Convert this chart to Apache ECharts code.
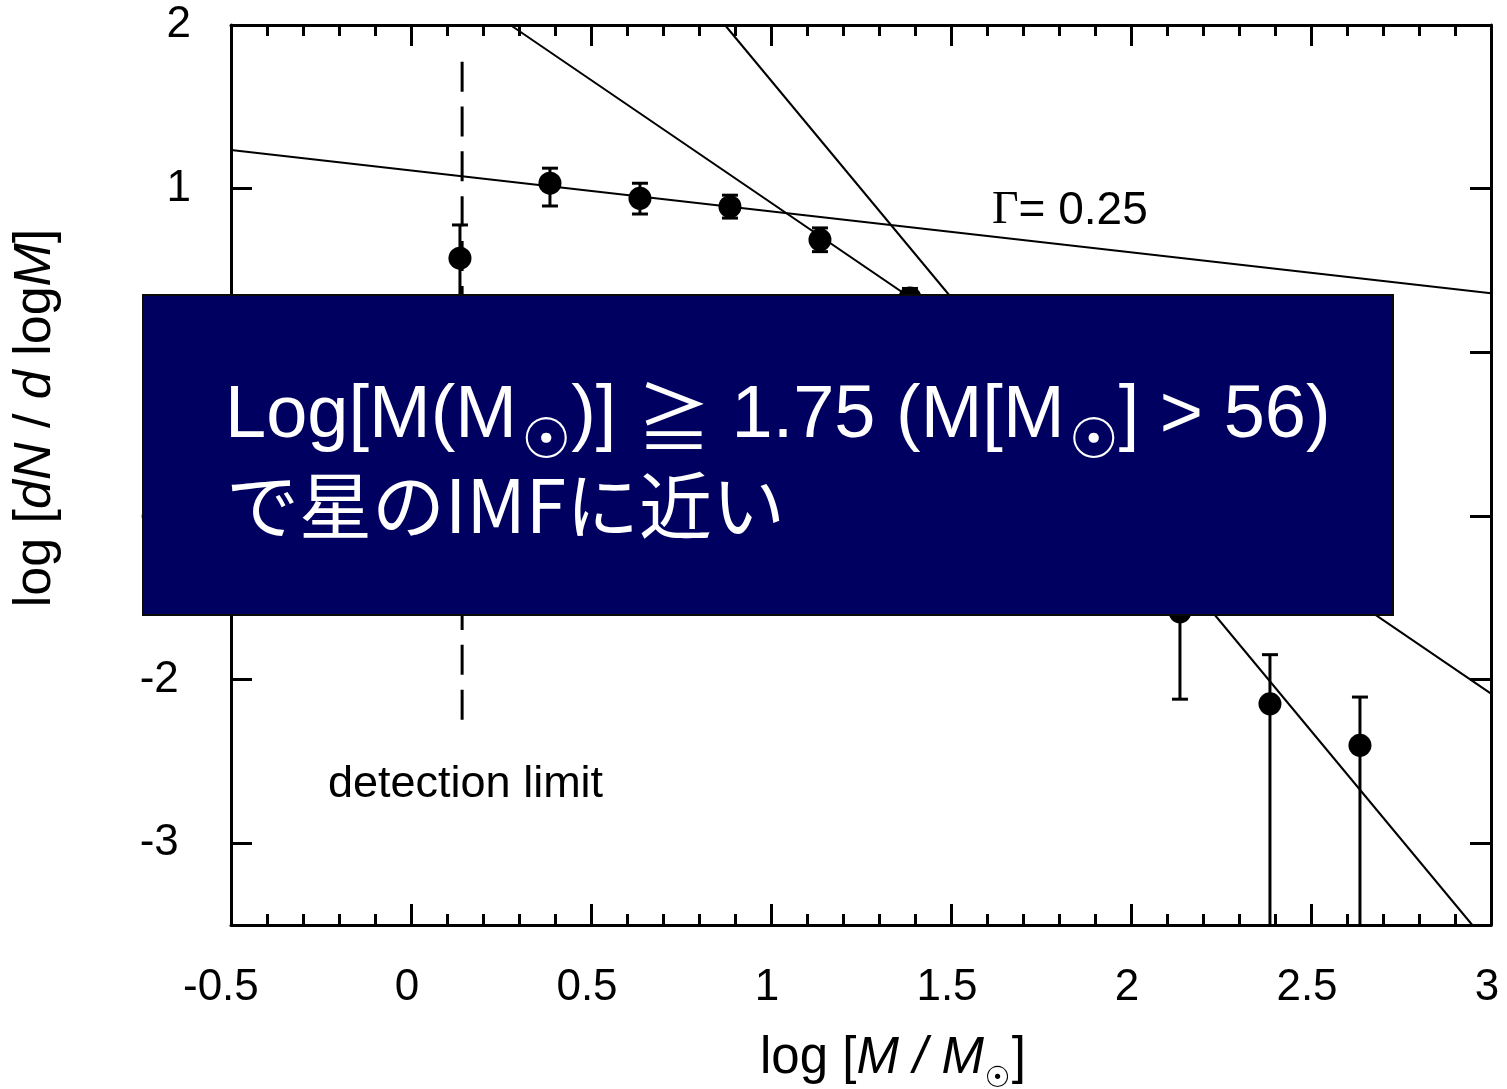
<!DOCTYPE html>
<html>
<head>
<meta charset="utf-8">
<script src="https://cdn.jsdelivr.net/npm/echarts@6/dist/echarts.min.js"></script>
<style>
  html, body { margin: 0; padding: 0; background: #fff; }
  #chart { width: 1507px; height: 1089px; }
</style>
</head>
<body>
<div id="chart"></div>
<script>
// Mass bins (log M/Msun) and the measured mass function with its error range
const massBins   = [0.136, 0.386, 0.636, 0.886, 1.136, 1.386, 1.636, 1.886, 2.136, 2.386, 2.636];
const logDensity = [0.575, 1.033, 0.941, 0.890, 0.687, 0.332, -0.30, -0.95, -1.586, -2.148, -2.402];
const errUpper   = [0.778, 1.125, 1.033, 0.960, 0.760, 0.390, -0.15, -0.75, -1.350, -1.848, -2.107];
const errLower   = [0.200, 0.894, 0.845, 0.820, 0.615, 0.250, -0.45, -1.15, -2.120, -3.500, -3.500];

// Power-law fits, each given by two end points
const fitShallow = [[-0.5, 1.236], [3.0, 0.361]];   // Γ = 0.25
const fitMiddle  = [[0.276, 2.0], [3.0, -2.086]];
const fitSteep   = [[0.872, 2.0], [2.948, -3.5]];

// Detection limit marker
const detectionLimit = [[0.142, 1.776], [0.142, -2.25]];

// Axis ranges and tick values
const X_MIN = -0.5, X_MAX = 3, X_STEP = 0.5;
const Y_MIN = -3.5, Y_MAX = 2;
const yTickValues = [-3, -2, -1, 0, 1, 2];

const chart = echarts.init(document.getElementById('chart'));

const LATIN = 'Liberation Sans';
const CJK = 'Noto Sans CJK JP';
const SYM = 'DejaVu Sans';

// Lay out a run of differently styled text pieces left to right,
// measuring each piece so the next one starts where it ends.
const measureCtx = document.createElement('canvas').getContext('2d');
function textRun(x0, yMid, color, z, pieces) {
  let x = x0;
  return pieces.map(function (p) {
    const style = p.italic ? 'italic' : 'normal';
    measureCtx.font = style + ' ' + p.size + 'px "' + p.family + '"';
    const w = measureCtx.measureText(p.text).width;
    const el = {
      type: 'text', x: x + (p.dx || 0), y: yMid + (p.dy || 0), z: z,
      style: {
        text: p.text, fill: color, fontFamily: p.family, fontSize: p.size,
        fontStyle: style, align: 'left', verticalAlign: 'middle'
      }
    };
    x += w + (p.dx || 0) + (p.gap || 0);
    return el;
  });
}

const negSpace = function (v) { return v < 0 ? v + ' ' : String(v); };

const xAxisBase = {
  type: 'value', min: X_MIN, max: X_MAX, interval: X_STEP,
  axisLine: { show: true, onZero: false, lineStyle: { color: '#000', width: 3 } },
  axisTick: { show: true, inside: true, length: 21, lineStyle: { color: '#000', width: 3 } },
  minorTick: { show: true, splitNumber: 5, length: 11, lineStyle: { color: '#000', width: 3 } },
  splitLine: { show: false }, minorSplitLine: { show: false }
};
const yAxisBase = {
  type: 'value', min: Y_MIN, max: Y_MAX,
  axisLine: { show: true, onZero: false, lineStyle: { color: '#000', width: 3 } },
  axisTick: { show: true, inside: true, length: 21, customValues: yTickValues, lineStyle: { color: '#000', width: 3 } },
  splitLine: { show: false }
};

// Axis title along x: log [M / M☉]
const xTitle = textRun(760, 1059, '#000', 50, [
  { text: 'log [', family: LATIN, size: 51 },
  { text: 'M / M', family: LATIN, size: 51, italic: true, gap: 1 },
  { text: '☉', family: SYM, size: 29, dy: 20 },
  { text: ']', family: LATIN, size: 51, dx: 1 }
]);

// Note in the box, first line: Log[M(M☉)] ≧ 1.75 (M[M☉] > 56)
const noteLine1 = textRun(225, 417, '#fff', 101, [
  { text: 'Log[M(M', family: LATIN, size: 74, gap: 4 },
  { text: '☉', family: SYM, size: 56, dy: 26 },
  { text: ')] ', family: LATIN, size: 74 },
  { text: '≧', family: CJK, size: 74 },
  { text: ' 1.75 (M[M', family: LATIN, size: 74, gap: 4 },
  { text: '☉', family: SYM, size: 56, dy: 26 },
  { text: '] > 56)', family: LATIN, size: 74 }
]);

const option = {
  animation: false,
  backgroundColor: '#fff',
  textStyle: { fontFamily: LATIN },
  grid: { left: 231, right: 16, top: 25, bottom: 164, containLabel: false },
  xAxis: [
    Object.assign({}, xAxisBase, {
      position: 'bottom',
      axisLabel: { show: true, margin: 41, fontSize: 44, color: '#000', fontFamily: LATIN,
        padding: [0, 8, 0, 0], formatter: negSpace }
    }),
    Object.assign({}, xAxisBase, { position: 'top', axisLabel: { show: false } })
  ],
  yAxis: [
    Object.assign({}, yAxisBase, {
      position: 'left',
      axisLabel: { show: true, margin: 40, fontSize: 44, color: '#000', fontFamily: LATIN,
        customValues: yTickValues, formatter: negSpace }
    }),
    Object.assign({}, yAxisBase, { position: 'right', axisLabel: { show: false } })
  ],
  series: [
    { type: 'line', data: fitShallow, showSymbol: false, clip: true, silent: true,
      lineStyle: { color: '#000', width: 2 } },
    { type: 'line', data: fitMiddle, showSymbol: false, clip: true, silent: true,
      lineStyle: { color: '#000', width: 2 } },
    { type: 'line', data: fitSteep, showSymbol: false, clip: true, silent: true,
      lineStyle: { color: '#000', width: 2 } },
    { type: 'line', data: detectionLimit, showSymbol: false, clip: true, silent: true,
      lineStyle: { color: '#000', width: 3, type: [30, 14.86] } },
    {
      type: 'custom', clip: true, silent: true,
      data: massBins.map((x, i) => [x, errLower[i], errUpper[i]]),
      renderItem: function (params, api) {
        const x = api.value(0), lo = api.value(1), hi = api.value(2);
        const top = api.coord([x, hi]);
        const bot = api.coord([x, lo]);
        const half = 8;
        const st = { stroke: '#000', lineWidth: 3 };
        const children = [{ type: 'line', shape: { x1: top[0], y1: top[1], x2: bot[0], y2: bot[1] }, style: st }];
        if (hi < Y_MAX) children.push({ type: 'line', shape: { x1: top[0] - half, y1: top[1], x2: top[0] + half, y2: top[1] }, style: st });
        if (lo > Y_MIN) children.push({ type: 'line', shape: { x1: bot[0] - half, y1: bot[1], x2: bot[0] + half, y2: bot[1] }, style: st });
        return { type: 'group', children: children };
      }
    },
    {
      type: 'scatter', symbol: 'circle', symbolSize: 23, silent: true,
      itemStyle: { color: '#000', opacity: 1 },
      data: massBins.map((x, i) => [x, logDensity[i]])
    }
  ],
  graphic: [].concat(xTitle, [
    {
      type: 'text', x: 36, y: 418, rotation: Math.PI / 2, z: 50,
      style: {
        text: '{n|log [}{i|dN}{n| / }{i|d}{n| log}{i|M}{n|]}',
        fill: '#000', fontFamily: LATIN, fontSize: 52, align: 'center', verticalAlign: 'middle',
        rich: {
          n: { fontFamily: LATIN, fontSize: 52, fill: '#000' },
          i: { fontFamily: LATIN, fontSize: 52, fontStyle: 'italic', fill: '#000' }
        }
      }
    },
    // annotations inside the plot
    {
      type: 'text', x: 992, y: 211, z: 50,
      style: {
        text: '{g|Γ}{n|= 0.25}',
        fill: '#000', fontSize: 46, align: 'left', verticalAlign: 'middle',
        rich: {
          g: { fontFamily: 'Liberation Serif', fontSize: 46, fill: '#000' },
          n: { fontFamily: LATIN, fontSize: 46, fill: '#000' }
        }
      }
    },
    {
      type: 'text', x: 328, y: 785, z: 50,
      style: { text: 'detection limit', fill: '#000', fontFamily: LATIN, fontSize: 45, align: 'left', verticalAlign: 'middle' }
    },
    // highlighted note box
    {
      type: 'rect', z: 100,
      shape: { x: 143, y: 295, width: 1250, height: 320 },
      style: { fill: '#000060', stroke: '#0a0a0a', lineWidth: 2 }
    }
  ], noteLine1, [
    {
      type: 'text', x: 226, y: 505, z: 101,
      style: { text: 'で星のIMFに近い', fill: '#fff', fontFamily: CJK, fontSize: 73, align: 'left', verticalAlign: 'middle' }
    }
  ])
};

chart.setOption(option);
</script>
</body>
</html>
